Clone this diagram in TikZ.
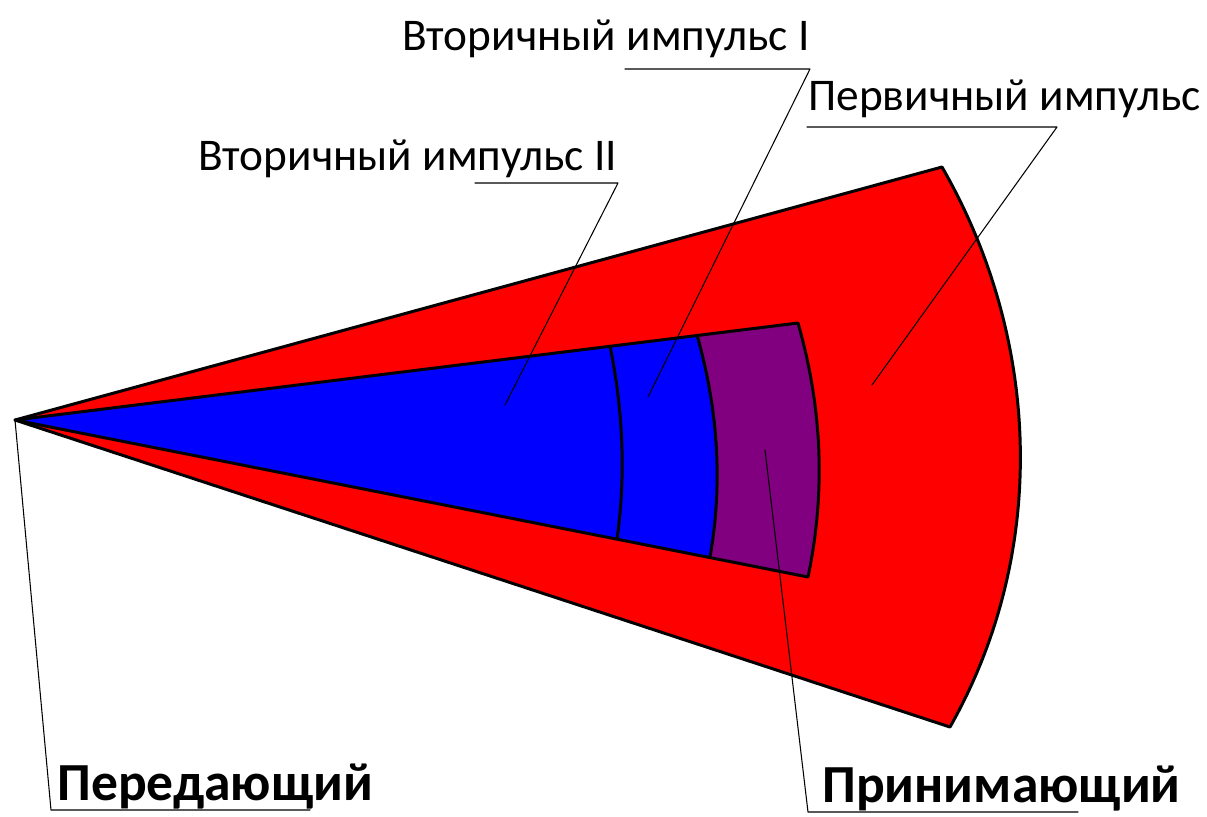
\documentclass[tikz,border=0pt]{standalone}
\usepackage{fontspec}
\setmainfont{Carlito}
\usetikzlibrary{calc}
\definecolor{pulsered}{RGB}{255,0,0}
\definecolor{pulseblue}{RGB}{0,0,255}
\definecolor{pulsepurple}{RGB}{128,0,128}
\begin{document}
\begin{tikzpicture}[x=0.02cm, y=-0.02cm, line join=round, line cap=round,
	sector/.style={draw=black, line width=1.7pt},
	leader/.style={draw=black, line width=0.6pt},
	lbl/.style={anchor=base west, inner sep=0pt, font=\fontsize{25.8}{30}\selectfont},
	blbl/.style={anchor=base west, inner sep=0pt, font=\fontsize{30.5}{36}\selectfont\bfseries}]
	\useasboundingbox (0,0) rectangle (1207,816);
	% corners of the two sectors
	\coordinate (A) at (15,420);
	\coordinate (Ot) at (942,167);
	\coordinate (Ob) at (950,727);
	\coordinate (It) at (798,323);
	\coordinate (Ib) at (808,577);
	\coordinate (Ct) at (697,335);
	\coordinate (Cb) at (710,557);
	\coordinate (Dt) at (610,346);
	\coordinate (Db) at (617,539);
	% primary pulse
	\filldraw[sector, fill=pulsered] (A) -- (Ot) .. controls (1041,339) and (1049,552) .. (Ob) -- cycle;
	% secondary pulses
	\fill[pulseblue] (A) -- (It) .. controls (822,407) and (826,491) .. (Ib) -- cycle;
	\fill[pulsepurple] (Ct) -- (It) .. controls (822,407) and (826,491) .. (Ib) -- (Cb) .. controls (723,483) and (718,409) .. cycle;
	\draw[sector] (A) -- (It) .. controls (822,407) and (826,491) .. (Ib) -- cycle;
	\draw[sector] (Ct) .. controls (718,409) and (723,483) .. (Cb);
	\draw[sector] (Dt) .. controls (623,410) and (626,475) .. (Db);
	% labels
	\node[lbl] (sec1) at (402,50) {Вторичный импульс I};
	\node[lbl] (prim) at (808,110) {Первичный импульс};
	\node[lbl] (sec2) at (198,170) {Вторичный импульс II};
	\node[blbl] (tx) at (57,800) {Передающий};
	\node[blbl] (rx) at (822,802) {Принимающий};
	% leader lines
	\coordinate (s1a) at (625,69);  \coordinate (s1b) at (810,69);  \coordinate (s1t) at (648,397);
	\coordinate (pa) at (807,127);  \coordinate (pb) at (1057,127); \coordinate (pt) at (872,385);
	\coordinate (s2a) at (475,183); \coordinate (s2b) at (618,183); \coordinate (s2t) at (505,405);
	\coordinate (txa) at (51,810);  \coordinate (txb) at (310,810);
	\coordinate (rxs) at (765,450); \coordinate (rxa) at (808,812); \coordinate (rxb) at (1078,812);
	\draw[leader] (s1a) -- (s1b) -- (s1t);
	\draw[leader] (pa) -- (pb) -- (pt);
	\draw[leader] (s2a) -- (s2b) -- (s2t);
	\draw[leader] (A) -- (txa) -- (txb);
	\draw[leader] (rxs) -- (rxa) -- (rxb);
\end{tikzpicture}
\end{document}
